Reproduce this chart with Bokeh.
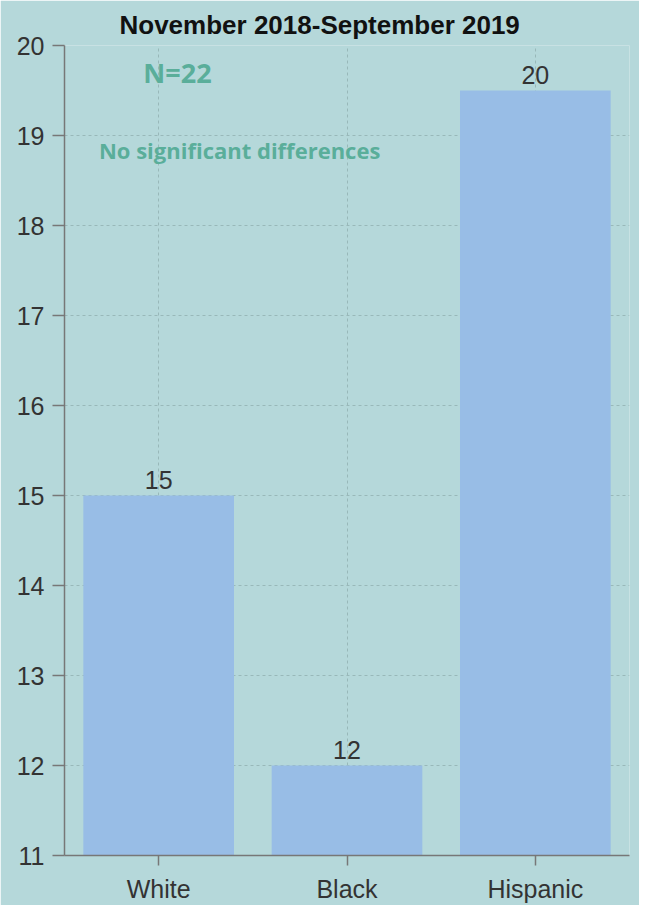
from bokeh.plotting import figure
from bokeh.models import ColumnDataSource, Label, FactorRange, Range1d, FixedTicker
from bokeh.core.properties import value
from bokeh.embed import file_html
from bokeh.resources import INLINE

title_text = "November 2018-September 2019"
categories = ["White", "Black", "Hispanic"]
values = [15, 12, 19.5]
value_labels = ["15", "12", "20"]
y_ticks = [11, 12, 13, 14, 15, 16, 17, 18, 19, 20]
note_n = "N=22"
note_sig = "No significant differences"

BG = "#b5d8da"
BAR = "#98bde6"
NOTE = "#5aae9a"
TXT = "#333333"

src = ColumnDataSource(dict(cat=categories, val=values, lab=value_labels))

p = figure(width=639, height=905, x_range=FactorRange(*categories, range_padding=0),
           y_range=Range1d(11, 20), output_backend="svg", toolbar_location=None,
           background_fill_color=BG, border_fill_color=BG, outline_line_color=None,
           min_border_left=64, min_border_right=10, min_border_top=45, min_border_bottom=50)

p.title.text = title_text
p.title.align = "left"
p.title.text_font = "Liberation Sans"
p.title.text_font_size = "26px"
p.title.text_font_style = "bold"
p.title.text_color = "#111111"
p.title.offset = 55
p.title.standoff = 12

p.vbar(x="cat", top="val", bottom=11, width=0.8, source=src, color=BAR, line_color=None)
p.text(x="cat", y="val", text="lab", source=src, text_align="center", text_baseline="bottom",
       y_offset=-7, text_font_size="25px", text_color=TXT, text_font=value("Liberation Sans"))

for ax in (p.xaxis, p.yaxis):
    ax.axis_line_color = "#777777"
    ax.axis_line_width = 1.5
    ax.major_tick_line_color = "#777777"
    ax.major_tick_line_width = 1.5
    ax.minor_tick_line_color = None
    ax.major_label_text_font = "Liberation Sans"
    ax.major_label_text_font_size = "25px"
    ax.major_label_text_color = TXT
    ax.major_tick_in = 0

p.yaxis.ticker = FixedTicker(ticks=y_ticks)
p.yaxis.major_tick_out = 12
p.yaxis.major_label_standoff = 8
p.xaxis.major_tick_out = 10
p.xaxis.major_label_standoff = 9

for g in (p.xgrid, p.ygrid):
    g.grid_line_color = "#98b8b9"
    g.grid_line_dash = "3 3"
    g.grid_line_width = 1

p.add_layout(Label(x=0.6, y=19.7, text=note_n, text_align="center", text_baseline="middle",
                   text_font="Open Sans", text_font_style="bold", text_font_size="27px",
                   text_color=NOTE))
p.add_layout(Label(x=0.93, y=18.84, text=note_sig, text_align="center", text_baseline="middle",
                   text_font="Open Sans", text_font_style="bold", text_font_size="22px",
                   text_color=NOTE))

open("out.html", "w").write(file_html(p, INLINE))
